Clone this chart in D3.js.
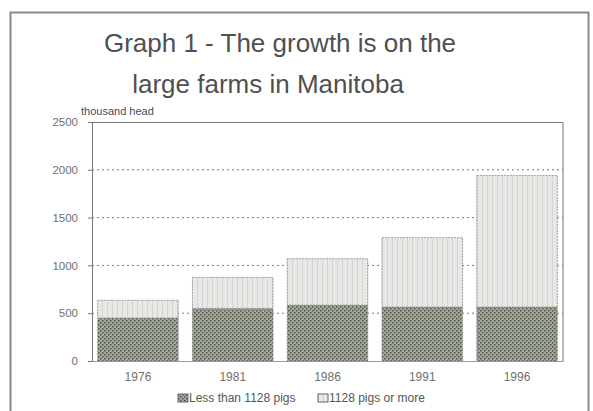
<!DOCTYPE html>
<html>
<head>
<meta charset="utf-8">
<script src="https://cdn.jsdelivr.net/npm/d3@7"></script>
<style>
  body { margin: 0; background: #fff; }
  text { font-family: Arial, "Liberation Sans", sans-serif; }
</style>
</head>
<body>
<div id="chart"></div>
<script>
// data (thousand head)
var years = ["1976", "1981", "1986", "1991", "1996"];
var smallFarms = [450, 550, 585, 565, 565];   // less than 1128 pigs
var largeFarms = [185, 325, 485, 725, 1375];  // 1128 pigs or more
var yTicks = [0, 500, 1000, 1500, 2000, 2500];
var seriesNames = ["Less than 1128 pigs", "1128 pigs or more"];

var svgWidth = 593;
var svgHeight = 411;
var margin = { top: 122, right: 30, bottom: 50, left: 92 };
var width = 563 - margin.left;
var height = 361 - margin.top;

var svg = d3.select("#chart").append("svg")
  .attr("width", svgWidth)
  .attr("height", svgHeight);

// patterns for the two series
var defs = svg.append("defs");
var lower = defs.append("pattern")
  .attr("id", "lowerFill")
  .attr("width", 4).attr("height", 4)
  .attr("patternUnits", "userSpaceOnUse");
lower.append("rect").attr("width", 4).attr("height", 4).attr("fill", "#a3a797");
lower.append("rect").attr("x", 0).attr("y", 0).attr("width", 1.5).attr("height", 1.5).attr("fill", "#50554b");
lower.append("rect").attr("x", 2).attr("y", 2).attr("width", 1.5).attr("height", 1.5).attr("fill", "#50554b");

var upper = defs.append("pattern")
  .attr("id", "upperFill")
  .attr("width", 5).attr("height", 5)
  .attr("patternUnits", "userSpaceOnUse");
upper.append("rect").attr("width", 5).attr("height", 5).attr("fill", "#e8e8e6");
upper.append("rect").attr("x", 0).attr("width", 1).attr("height", 5).attr("fill", "#d4d5d1");

// outer frame
svg.append("rect")
  .attr("x", 10.5).attr("y", 12.5)
  .attr("width", 578).attr("height", 410)
  .attr("fill", "none")
  .attr("stroke", "#8a8a8a")
  .attr("stroke-width", 2);

// title
var title = svg.append("text")
  .attr("text-anchor", "middle")
  .attr("fill", "#505050")
  .style("font-size", "26px");
title.append("tspan").attr("x", 280).attr("y", 52).text("Graph 1 - The growth is on the");
title.append("tspan").attr("x", 268).attr("y", 93).text("large farms in Manitoba");

var chartGroup = svg.append("g")
  .attr("transform", `translate(${margin.left}, ${margin.top})`);

var xBandScale = d3.scaleBand()
  .domain(years)
  .range([0, width])
  .paddingInner(0.15)
  .paddingOuter(0.06);

var yLinearScale = d3.scaleLinear()
  .domain([0, 2500])
  .range([height, 0]);

// dotted gridlines
chartGroup.selectAll(".grid")
  .data(yTicks.filter(d => d > 0 && d < 2500))
  .enter()
  .append("line")
  .attr("x1", 0).attr("x2", width)
  .attr("y1", d => yLinearScale(d)).attr("y2", d => yLinearScale(d))
  .attr("stroke", "#777")
  .attr("stroke-width", 1)
  .attr("stroke-dasharray", "2,3");

// stacked bars
var stackData = years.map((y, i) => ({ year: y, small: smallFarms[i], large: largeFarms[i] }));
var stack = d3.stack().keys(["small", "large"])(stackData);
var fills = ["url(#lowerFill)", "url(#upperFill)"];

chartGroup.selectAll(".layer")
  .data(stack)
  .enter()
  .append("g")
  .attr("fill", (d, i) => fills[i])
  .selectAll("rect")
  .data(d => d)
  .enter()
  .append("rect")
  .attr("x", d => xBandScale(d.data.year))
  .attr("y", d => yLinearScale(d[1]))
  .attr("width", xBandScale.bandwidth())
  .attr("height", d => yLinearScale(d[0]) - yLinearScale(d[1]))
  .attr("stroke", "#8a8a8a")
  .attr("stroke-width", 0.8)
  .attr("stroke-dasharray", "2,1");

// plot frame (top and right)
chartGroup.append("path")
  .attr("d", `M0,0.5H${width}V${height}`)
  .attr("fill", "none")
  .attr("stroke", "#777");

// y axis
var leftAxis = d3.axisLeft(yLinearScale)
  .tickValues(yTicks)
  .tickSize(4)
  .tickFormat(d3.format("d"));
var yAxis = chartGroup.append("g").call(leftAxis);
yAxis.select(".domain").attr("stroke", "#777");
yAxis.selectAll(".tick line").attr("stroke", "#777");
yAxis.selectAll("text")
  .attr("x", -14)
  .attr("fill", "#707070")
  .style("font-size", "11.5px");

// x axis
var bottomAxis = d3.axisBottom(xBandScale).tickSize(0);
var xAxis = chartGroup.append("g")
  .attr("transform", `translate(0, ${height})`)
  .call(bottomAxis);
xAxis.select(".domain").attr("stroke", "#999");
xAxis.selectAll("text")
  .attr("y", 11)
  .attr("fill", "#707070")
  .style("font-size", "12px");

// unit label
svg.append("text")
  .attr("x", 81).attr("y", 115)
  .attr("fill", "#4a4a60")
  .style("font-size", "11px")
  .text("thousand head");

// legend
var legend = svg.append("g").attr("transform", "translate(178, 402)");
var legendX = [0, 140];
seriesNames.forEach((name, i) => {
  legend.append("rect")
    .attr("x", legendX[i]).attr("y", -8)
    .attr("width", 10).attr("height", 8)
    .attr("fill", fills[i])
    .attr("stroke", "#666");
  legend.append("text")
    .attr("x", legendX[i] + 11).attr("y", 0)
    .attr("fill", "#555")
    .style("font-size", "12px")
    .text(name);
});
</script>
</body>
</html>
